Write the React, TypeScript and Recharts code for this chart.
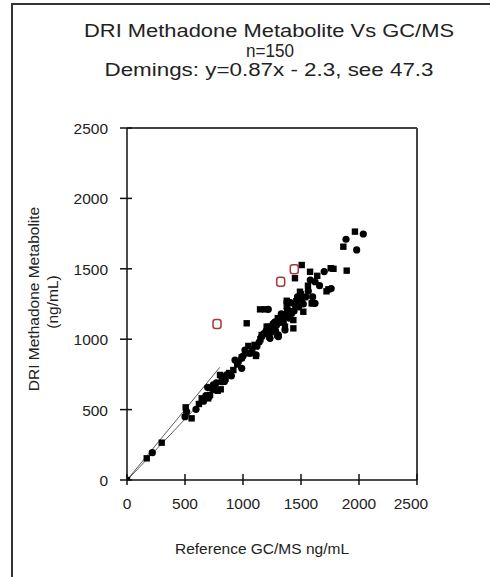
import { ScatterChart, Scatter, XAxis, YAxis, ReferenceLine } from 'recharts';

const X_TICKS = [0, 500, 1000, 1500, 2000, 2500];
const Y_TICKS = [0, 500, 1000, 1500, 2000, 2500];

// GC/MS reference vs DRI result (ng/mL)
const SQUARE_PTS: [number, number][] = [
  [0, 0], [170, 154], [299, 265], [506, 516], [557, 438], [644, 580], [716, 604],
  [782, 634], [808, 644], [802, 746], [917, 781], [989, 871], [1112, 881], [1046, 952],
  [1161, 1030], [1296, 1030], [1032, 1113], [1190, 1212], [1218, 1089], [1362, 1089],
  [1377, 1255], [1520, 1195], [1592, 1255], [1347, 1160], [1506, 1527], [1448, 1433],
  [1578, 1479], [1756, 1504], [1894, 1487], [1736, 1354], [1491, 1337], [1377, 1273],
  [1601, 1255], [1434, 1136], [1204, 1089], [1147, 1212], [1865, 1657], [1965, 1764],
  [1434, 1077], [620, 540], [700, 580], [760, 640], [850, 720], [950, 820], [1020, 900],
  [1100, 960], [1150, 1000], [1240, 1050], [1300, 1150], [1350, 1130], [1400, 1200],
  [1460, 1270], [1500, 1320], [1560, 1380], [1640, 1450], [1720, 1340], [1780, 1500],
  [1250, 1080], [880, 760], [1080, 930],
];

const ROUND_PTS: [number, number][] = [
  [218, 194], [514, 485], [595, 502], [500, 450], [695, 658], [753, 663], [816, 698],
  [707, 592], [744, 675], [859, 746], [989, 793], [931, 852], [1017, 923], [1227, 1013],
  [1362, 1065], [1276, 1124], [1233, 1006], [1305, 1030], [1448, 1243], [1420, 1184],
  [1621, 1255], [1290, 1101], [1112, 888], [989, 864], [816, 734], [730, 651],
  [1621, 1408], [1563, 1342], [1506, 1278], [1377, 1184], [1305, 1018], [1161, 1018],
  [1218, 1212], [1980, 1634], [1888, 1710], [2037, 1747], [660, 560], [680, 600],
  [770, 690], [840, 700], [900, 740], [960, 840], [1000, 880], [1060, 900], [1120, 950],
  [1140, 980], [1180, 1040], [1200, 1060], [1260, 1110], [1280, 1060], [1320, 1120],
  [1330, 1180], [1380, 1220], [1400, 1150], [1410, 1260], [1440, 1200], [1470, 1300],
  [1480, 1230], [1520, 1250], [1540, 1300], [1580, 1420], [1600, 1300], [1660, 1380],
  [1700, 1480], [1760, 1360],
];

// excluded samples (red open markers)
const OUTLIERS: [number, number][] = [[776, 1108], [1325, 1408], [1442, 1496]];

// identity line and Deming fit y = 0.87x - 2.3, drawn over the low range
const IDENTITY_LINE: [number, number][] = [[0, 0], [800, 800]];
const DEMING_LINE: [number, number][] = [[0, -2.3], [800, 693.7]];

const FONT = "'Liberation Sans', Arial, sans-serif";
const toXY = (arr: [number, number][]) => arr.map(([x, y]) => ({ x, y }));

const SquareDot = (props: any) => {
  const { cx, cy } = props;
  if (cx == null || cy == null) return <g />;
  return <rect x={cx - 3.2} y={cy - 3.2} width={6.4} height={6.4} fill="#000" />;
};

const RoundDot = (props: any) => {
  const { cx, cy } = props;
  if (cx == null || cy == null) return <g />;
  return <circle cx={cx} cy={cy} r={3.6} fill="#000" />;
};

const OpenDot = (props: any) => {
  const { cx, cy } = props;
  if (cx == null || cy == null) return <g />;
  return (
    <rect x={cx - 4} y={cy - 4.5} width={8} height={9} rx={2.5} fill="#fff" stroke="#a8383b" strokeWidth={1.5} />
  );
};

const NoDot = () => <g />;

const XTick = (props: any) => {
  const { x, y, payload } = props;
  const dx = payload.value === 2500 ? -6 : 0;
  return (
    <g>
      <line x1={x} x2={x} y1={y - 6} y2={y + 5} stroke="#111" strokeWidth={1.5} />
      <text x={x + dx} y={y + 29} textAnchor="middle" fontSize={15.5} fill="#222" fontFamily={FONT}>
        {payload.value}
      </text>
    </g>
  );
};

const YTick = (props: any) => {
  const { x, y, payload } = props;
  return (
    <g>
      <line x1={x - 7} x2={x + 5} y1={y} y2={y} stroke="#111" strokeWidth={1.5} />
      <text x={x - 19} y={y + 6} textAnchor="end" fontSize={15.5} fill="#222" fontFamily={FONT}>
        {payload.value}
      </text>
    </g>
  );
};

export default function App() {
  return (
    <div style={{ position: 'absolute', left: 0, top: 0, width: 490, height: 577, background: '#fff', overflow: 'hidden' }}>
      <div
        style={{
          position: 'absolute',
          left: 11,
          top: 3,
          width: 490,
          height: 600,
          borderLeft: '2px solid #333',
          borderTop: '2px solid #333',
        }}
      />
      <ScatterChart
        width={490}
        height={577}
        margin={{ top: 128, right: 73, bottom: 67, left: 67 }}
        style={{ position: 'absolute', left: 0, top: 0 }}
      >
        <XAxis
          type="number"
          dataKey="x"
          domain={[0, 2500]}
          ticks={X_TICKS}
          allowDataOverflow
          height={30}
          tickSize={0}
          tickMargin={0}
          tickLine={false}
          axisLine={{ stroke: '#111', strokeWidth: 1.5 }}
          tick={<XTick />}
          interval={0}
        />
        <YAxis
          type="number"
          dataKey="y"
          domain={[0, 2500]}
          ticks={Y_TICKS}
          allowDataOverflow
          width={60}
          tickSize={0}
          tickMargin={0}
          tickLine={false}
          axisLine={{ stroke: '#111', strokeWidth: 1.5 }}
          tick={<YTick />}
          interval={0}
        />
        <ReferenceLine y={2500} stroke="#444" strokeWidth={2} />
        <ReferenceLine x={2500} stroke="#444" strokeWidth={2} />
        <Scatter data={toXY(IDENTITY_LINE)} line={{ stroke: '#333', strokeWidth: 0.8 }} shape={NoDot} isAnimationActive={false} />
        <Scatter data={toXY(DEMING_LINE)} line={{ stroke: '#333', strokeWidth: 0.8 }} shape={NoDot} isAnimationActive={false} />
        <Scatter data={toXY(SQUARE_PTS)} shape={SquareDot} isAnimationActive={false} />
        <Scatter data={toXY(ROUND_PTS)} shape={RoundDot} isAnimationActive={false} />
        <Scatter data={toXY(OUTLIERS)} shape={OpenDot} isAnimationActive={false} />
      </ScatterChart>
      <svg width={490} height={577} style={{ position: 'absolute', left: 0, top: 0, pointerEvents: 'none' }}>
        <g fontFamily={FONT} fill="#222" textAnchor="middle">
          <text x={269} y={37} fontSize={17.5} textLength={370} lengthAdjust="spacingAndGlyphs">
            DRI Methadone Metabolite Vs GC/MS
          </text>
          <text x={270} y={56.5} fontSize={17.5} textLength={48} lengthAdjust="spacingAndGlyphs">
            n=150
          </text>
          <text x={269} y={76} fontSize={17.5} textLength={329} lengthAdjust="spacingAndGlyphs">
            Demings: y=0.87x - 2.3, see 47.3
          </text>
          <text x={262} y={554} fontSize={15.5}>Reference GC/MS ng/mL</text>
          <text x={39} y={299} fontSize={15.5} transform="rotate(-90, 39, 299)">DRI Methadone Metabolite</text>
          <text x={58} y={302} fontSize={15.5} transform="rotate(-90, 58, 302)">(ng/mL)</text>
        </g>
      </svg>
    </div>
  );
}
